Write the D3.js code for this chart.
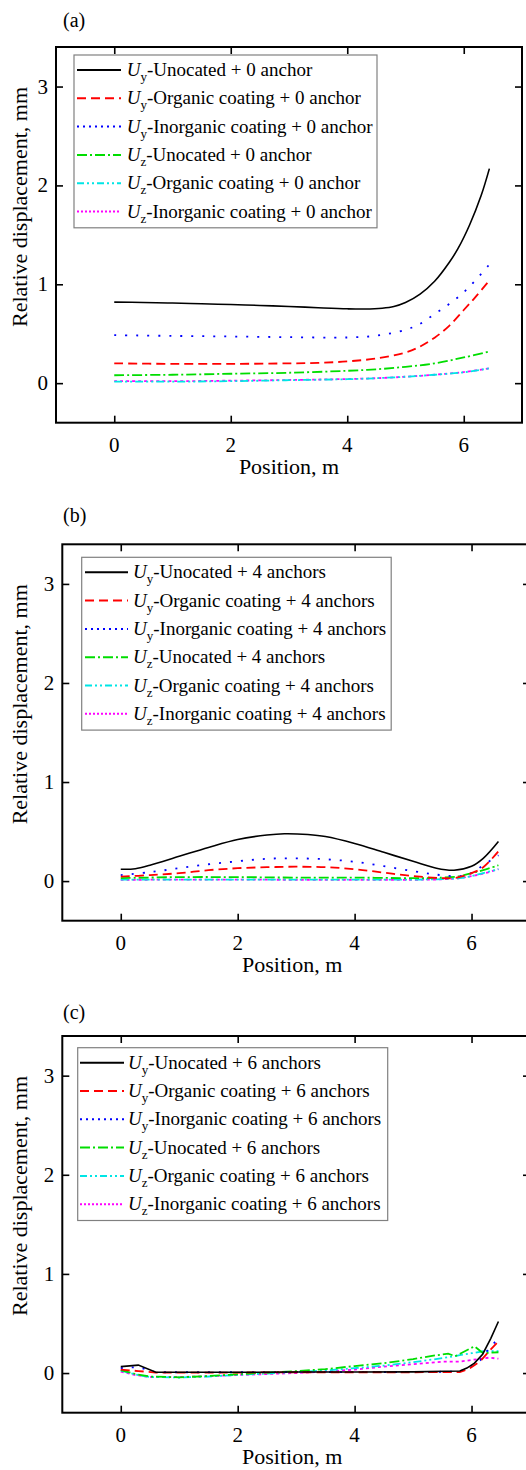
<!DOCTYPE html>
<html>
<head>
<meta charset="utf-8">
<script src="https://cdn.jsdelivr.net/npm/d3@7"></script>
<style>
  body { margin: 0; background: #fff; }
  svg text { font-family: "Liberation Serif", "Times New Roman", "DejaVu Serif", serif; }
</style>
</head>
<body>
<svg id="chart" width="526" height="1470"></svg>
<script>
// ---- data ----
const xTicks = [0, 2, 4, 6];
const yTicks = [0, 1, 2, 3];
const subs = ["y", "y", "y", "z", "z", "z"];
const kinds = ["-Unocated", "-Organic coating", "-Inorganic coating", "-Unocated", "-Organic coating", "-Inorganic coating"];
const anchorText = [" + 0 anchor", " + 4 anchors", " + 6 anchors"];
const panelTags = ["(a)", "(b)", "(c)"];

// panel (a): 0 anchor
const aUyUncoated = [[0,0.82],[0.5,0.816],[1,0.81],[1.5,0.803],[2,0.795],[2.5,0.786],[3,0.776],[3.5,0.763],[4,0.752],[4.3,0.75],[4.6,0.758],[4.8,0.775],[5,0.815],[5.25,0.9],[5.5,1.03],[5.75,1.22],[5.9,1.36],[6.1,1.6],[6.3,1.9],[6.44,2.17]];
const aUyOrganic = [[0,0.2],[1,0.195],[2,0.195],[3,0.2],[3.5,0.205],[4,0.22],[4.5,0.25],[5,0.31],[5.25,0.37],[5.5,0.46],[5.75,0.58],[6,0.74],[6.2,0.87],[6.44,1.04]];
const aUyInorganic = [[0,0.485],[1,0.478],[2,0.472],[3,0.465],[4,0.462],[4.5,0.48],[5,0.54],[5.25,0.6],[5.5,0.7],[5.75,0.8],[6,0.92],[6.2,1.04],[6.44,1.2]];
const aUzUncoated = [[0,0.08],[1,0.085],[2,0.095],[3,0.105],[4,0.125],[4.5,0.14],[5,0.165],[5.5,0.2],[6,0.26],[6.44,0.32]];
const aUzOrganic = [[0,0.015],[1,0.015],[2,0.02],[3,0.03],[4,0.04],[4.5,0.05],[5,0.065],[5.5,0.085],[6,0.11],[6.44,0.15]];
const aUzInorganic = [[0,0.02],[1,0.02],[2,0.025],[3,0.032],[4,0.042],[4.5,0.05],[5,0.065],[5.5,0.085],[6,0.112],[6.44,0.15]];

// panel (b): 4 anchors
const bUyUncoated = [[0,0.12],[0.25,0.125],[0.5,0.16],[1,0.25],[1.5,0.34],[2,0.42],[2.5,0.465],[2.8,0.478],[3.2,0.47],[3.5,0.45],[4,0.38],[4.5,0.29],[5,0.2],[5.4,0.13],[5.7,0.11],[6,0.15],[6.2,0.23],[6.46,0.4]];
const bUyOrganic = [[0,0.045],[0.5,0.06],[1,0.08],[1.5,0.11],[2,0.13],[2.5,0.14],[3,0.145],[3.5,0.14],[4,0.12],[4.5,0.085],[5,0.05],[5.5,0.03],[5.7,0.03],[6,0.08],[6.2,0.14],[6.46,0.3]];
const bUyInorganic = [[0,0.06],[0.5,0.09],[1,0.13],[1.5,0.17],[2,0.2],[2.5,0.225],[3,0.23],[3.5,0.22],[4,0.195],[4.5,0.15],[5,0.1],[5.4,0.065],[5.8,0.05],[6,0.08],[6.2,0.16],[6.46,0.26]];
const bUzUncoated = [[0,0.03],[1,0.04],[2,0.04],[3,0.035],[4,0.035],[5,0.03],[5.5,0.035],[5.8,0.05],[6,0.08],[6.2,0.11],[6.46,0.16]];
const bUzOrganic = [[0,0.015],[1,0.015],[2,0.015],[3,0.015],[4,0.015],[5,0.015],[5.5,0.02],[5.8,0.03],[6,0.05],[6.2,0.08],[6.46,0.12]];
const bUzInorganic = [[0,0.012],[1,0.015],[2,0.015],[3,0.013],[4,0.012],[5,0.013],[5.5,0.018],[5.8,0.03],[6,0.05],[6.2,0.075],[6.46,0.12]];

// panel (c): 6 anchors
const cUyUncoated = [[0,0.065],[0.3,0.08],[0.6,0.008],[1,0.008],[2,0.008],[3,0.01],[4,0.01],[5,0.012],[5.8,0.02],[5.92,0.05],[6.05,0.1],[6.19,0.19],[6.33,0.35],[6.46,0.52]];
const cUyOrganic = [[0,0.035],[0.3,0.02],[0.6,0.005],[1,0.005],[2,0.005],[3,0.008],[4,0.008],[5,0.008],[5.8,0.01],[5.95,0.04],[6.15,0.12],[6.3,0.22],[6.46,0.32]];
const cUyInorganic = [[0,0.05],[0.3,0.06],[0.6,0.008],[1,0.008],[2,0.008],[3,0.01],[4,0.01],[5,0.01],[5.8,0.015],[5.95,0.05],[6.15,0.13],[6.3,0.25],[6.46,0.35]];
const cUzUncoated = [[0,0.03],[0.25,-0.01],[0.5,-0.035],[1,-0.043],[1.5,-0.03],[2,-0.012],[2.5,0.005],[3,0.02],[3.5,0.04],[4,0.07],[4.5,0.1],[5,0.14],[5.4,0.18],[5.6,0.195],[5.72,0.17],[5.82,0.2],[6.05,0.27],[6.2,0.2],[6.46,0.21]];
const cUzOrganic = [[0,0.025],[0.25,-0.015],[0.5,-0.04],[1,-0.045],[1.5,-0.035],[2,-0.018],[2.5,-0.005],[3,0.01],[3.5,0.025],[4,0.05],[4.5,0.075],[5,0.11],[5.5,0.15],[5.8,0.18],[6,0.2],[6.2,0.22],[6.46,0.22]];
const cUzInorganic = [[0,0.015],[0.25,-0.02],[0.5,-0.04],[1,-0.04],[1.5,-0.032],[2,-0.02],[2.5,-0.01],[3,0.0],[3.5,0.015],[4,0.035],[4.5,0.065],[5,0.09],[5.5,0.115],[5.8,0.115],[6.1,0.14],[6.3,0.155],[6.46,0.145]];

// ---- styles ----
const colors = ["#000000", "#ff0000", "#0000ff", "#00dd00", "#00e5e5", "#ff00ff"];
const plotDash = [null, "9,5", "2,9", "10,3,2,3", "8,3,2,3,2,3", "3,3"];
const legendDash = [null, "9,5", "2,4", "10,3,2,3", "7,3,2,3,2,3", "2,2"];
const serif = '"Liberation Serif", "Times New Roman", "DejaVu Serif", serif';

const panels = [
    { series: [aUyUncoated, aUyOrganic, aUyInorganic, aUzUncoated, aUzOrganic, aUzInorganic],
      left: 56, right: 522, top: 47, bottom: 422.7, tagY: 27,
      legend: { x: 74, y: 55, w: 303, line: [77, 121], text: 126.7 }, curve: d3.curveCatmullRom.alpha(0.5) },
    { series: [bUyUncoated, bUyOrganic, bUyInorganic, bUzUncoated, bUzOrganic, bUzInorganic],
      left: 62.3, right: 530, top: 544.3, bottom: 920.7, tagY: 522,
      legend: { x: 81.7, y: 557.3, w: 309.5, line: [85, 128], text: 133 }, curve: d3.curveCatmullRom.alpha(0.5) },
    { series: [cUyUncoated, cUyOrganic, cUyInorganic, cUzUncoated, cUzOrganic, cUzInorganic],
      left: 62.3, right: 530, top: 1036, bottom: 1412.7, tagY: 1019,
      legend: { x: 77.7, y: 1047.7, w: 310, line: [80, 124], text: 128 }, curve: d3.curveLinear }
];

const svg = d3.select("#chart");
const rowGap = 28.3;

panels.forEach((p, pi) => {
    const x = d3.scaleLinear().domain([-1, 7]).range([p.left, p.right]);
    const y = d3.scaleLinear().domain([-0.4, 3.4]).range([p.bottom, p.top]);
    const g = svg.append("g").attr("font-family", serif);

    // panel tag
    g.append("text")
        .attr("x", 63).attr("y", p.tagY)
        .attr("font-family", serif)
        .style("font-size", "20px")
        .text(panelTags[pi]);

    // curves (draw reverse so black is on top)
    const line = d3.line().x(d => x(d[0])).y(d => y(d[1])).curve(p.curve);
    [5, 4, 3, 2, 1, 0].forEach(i => {
        g.append("path")
            .datum(p.series[i])
            .attr("d", line)
            .attr("fill", "none")
            .attr("stroke", colors[i])
            .attr("stroke-width", i === 0 ? 1.6 : 1.8)
            .attr("stroke-dasharray", plotDash[i]);
    });

    // axes with inward ticks
    const axB = g.append("g").attr("transform", `translate(0,${p.bottom})`)
        .call(d3.axisTop(x).tickValues(xTicks).tickSize(7).tickFormat(""));
    const axT = g.append("g").attr("transform", `translate(0,${p.top})`)
        .call(d3.axisBottom(x).tickValues(xTicks).tickSize(7).tickFormat(""));
    const axL = g.append("g").attr("transform", `translate(${p.left},0)`)
        .call(d3.axisRight(y).tickValues(yTicks).tickSize(7).tickFormat(""));
    const axR = g.append("g").attr("transform", `translate(${p.right},0)`)
        .call(d3.axisLeft(y).tickValues(yTicks).tickSize(7).tickFormat(""));
    [axB, axT, axL, axR].forEach(a => {
        a.select(".domain").remove();
        a.selectAll("line").attr("stroke", "#000").attr("stroke-width", 1.6);
    });

    // frame
    g.append("rect")
        .attr("x", p.left).attr("y", p.top)
        .attr("width", p.right - p.left).attr("height", p.bottom - p.top)
        .attr("fill", "none").attr("stroke", "#000").attr("stroke-width", 2);

    // tick labels
    g.selectAll(".xl").data(xTicks).enter().append("text")
        .attr("x", d => x(d)).attr("y", p.bottom + 29)
        .attr("text-anchor", "middle")
        .attr("font-family", serif)
        .style("font-size", "21px")
        .text(d => d);
    g.selectAll(".yl").data(yTicks).enter().append("text")
        .attr("x", p.left - 8).attr("y", d => y(d) + 7)
        .attr("text-anchor", "end")
        .attr("font-family", serif)
        .style("font-size", "21px")
        .text(d => d);

    // axis titles
    g.append("text")
        .attr("x", (p.left + p.right) / 2 - (pi === 0 ? 0 : 4)).attr("y", p.bottom + 51)
        .attr("text-anchor", "middle")
        .attr("font-family", serif)
        .style("font-size", "22px")
        .text("Position, m");
    g.append("text")
        .attr("transform", `translate(27,${p.top + 160}) rotate(-90)`)
        .attr("text-anchor", "middle")
        .attr("font-family", serif)
        .style("font-size", "22px")
        .text("Relative displacement, mm");

    // legend
    const L = p.legend;
    g.append("rect")
        .attr("x", L.x).attr("y", L.y)
        .attr("width", L.w).attr("height", rowGap * 6 + 3)
        .attr("fill", "#fff").attr("stroke", "#808080").attr("stroke-width", 1.2);
    kinds.forEach((k, i) => {
        const cy = L.y + 15 + i * rowGap;
        g.append("line")
            .attr("x1", L.line[0]).attr("x2", L.line[1])
            .attr("y1", cy).attr("y2", cy)
            .attr("stroke", colors[i]).attr("stroke-width", 2)
            .attr("stroke-dasharray", legendDash[i]);
        const t = g.append("text")
            .attr("x", L.text).attr("y", cy + 6)
            .attr("font-family", serif)
            .style("font-size", "19px");
        t.append("tspan").style("font-style", "italic").text("U");
        t.append("tspan").attr("dy", 5).style("font-size", "13px").text(subs[i]);
        t.append("tspan").attr("dy", -5).text(k + anchorText[pi]);
    });
});
</script>
</body>
</html>
